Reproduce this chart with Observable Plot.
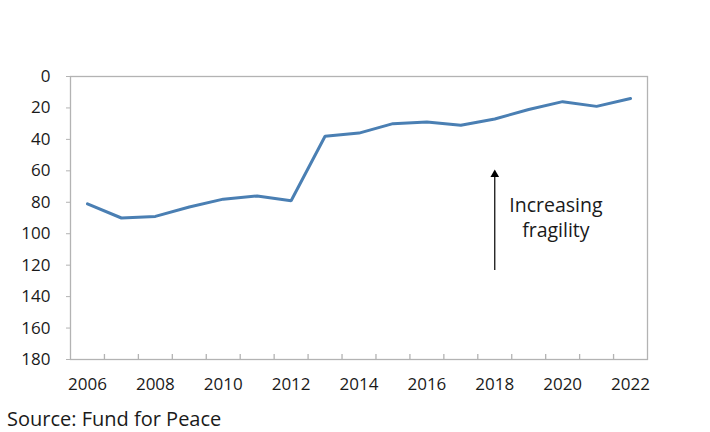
<!DOCTYPE html>
<html>
<head>
<meta charset="utf-8">
<script src="https://cdn.jsdelivr.net/npm/d3@7"></script>
<script src="https://cdn.jsdelivr.net/npm/@observablehq/plot@0.6"></script>
<style>
  body { margin: 0; background: #fff; font-family: "Open Sans", sans-serif; }
  #chart { width: 710px; height: 432px; overflow: hidden; position: relative; }
  .caption { position: absolute; left: 7px; top: 405px; font-size: 20px; line-height: 1.35; color: #1a1a1a; font-family: "Open Sans", sans-serif; white-space: nowrap; }
</style>
</head>
<body>
<div id="chart"></div>
<script>
const years = [2006,2007,2008,2009,2010,2011,2012,2013,2014,2015,2016,2017,2018,2019,2020,2021,2022];
const ranks = [81,90,89,83,78,76,79,38,36,30,29,31,27,21,16,19,14];
const xLabelYears = [2006,2008,2010,2012,2014,2016,2018,2020,2022];
const yTicks = [0,20,40,60,80,100,120,140,160,180];
const annotationLabel = "Increasing\nfragility";
const arrowYear = 2018;
const arrowFrom = 123;
const arrowTo = 61;
const annotationYear = 2019.8;
const annotationRank = 89.3;
const sourceText = "Source: Fund for Peace";

const data = years.map((y, i) => ({year: y, rank: ranks[i]}));
const boundaries = years.slice(1).map(y => y - 0.5);

const plot = Plot.plot({
  width: 710,
  height: 400,
  marginTop: 76,
  marginBottom: 41,
  marginLeft: 70,
  marginRight: 63,
  style: {fontFamily: "Open Sans, sans-serif", fontSize: "17px", color: "#1a1a1a", background: "#fff"},
  x: {domain: [years[0] - 0.5, years[years.length - 1] + 0.5]},
  y: {domain: [0, 180], reverse: true},
  marks: [
    Plot.frame({stroke: "#b3b3b3", strokeWidth: 1.3}),
    Plot.axisY({ticks: yTicks, tickSize: 4, tickPadding: 16, stroke: "#b3b3b3", label: null, fill: "#1a1a1a", fontSize: 17}),
    Plot.axisX({ticks: xLabelYears, tickSize: 0, tickPadding: 18, tickFormat: d => String(d), label: null, fill: "#1a1a1a", fontSize: 17}),
    Plot.ruleX(boundaries, {x: d => d, y1: 180, y2: 180, insetBottom: 5, stroke: "#b3b3b3", strokeWidth: 1.3}),
    Plot.line(data, {x: "year", y: "rank", stroke: "#4a7fb3", strokeWidth: 3, strokeLinejoin: "miter"}),
    Plot.link([{x: arrowYear, y1: arrowFrom, y2: arrowTo}], {x1: "x", x2: "x", y1: "y1", y2: "y2", stroke: "#000", strokeWidth: 1.2}),
    Plot.dot([{x: arrowYear, y: arrowTo}], {x: "x", y: "y", symbol: "triangle", r: 3.2, fill: "#000", dy: 2}),
    Plot.text([{x: annotationYear, y: annotationRank, t: annotationLabel}], {x: "x", y: "y", text: "t", fontSize: 19.5, lineHeight: 1.28, fill: "#1a1a1a", textAnchor: "middle"})
  ]
});
const chart = document.getElementById("chart");
chart.appendChild(plot);
const cap = document.createElement("div");
cap.className = "caption";
cap.textContent = sourceText;
chart.appendChild(cap);
</script>
</body>
</html>
